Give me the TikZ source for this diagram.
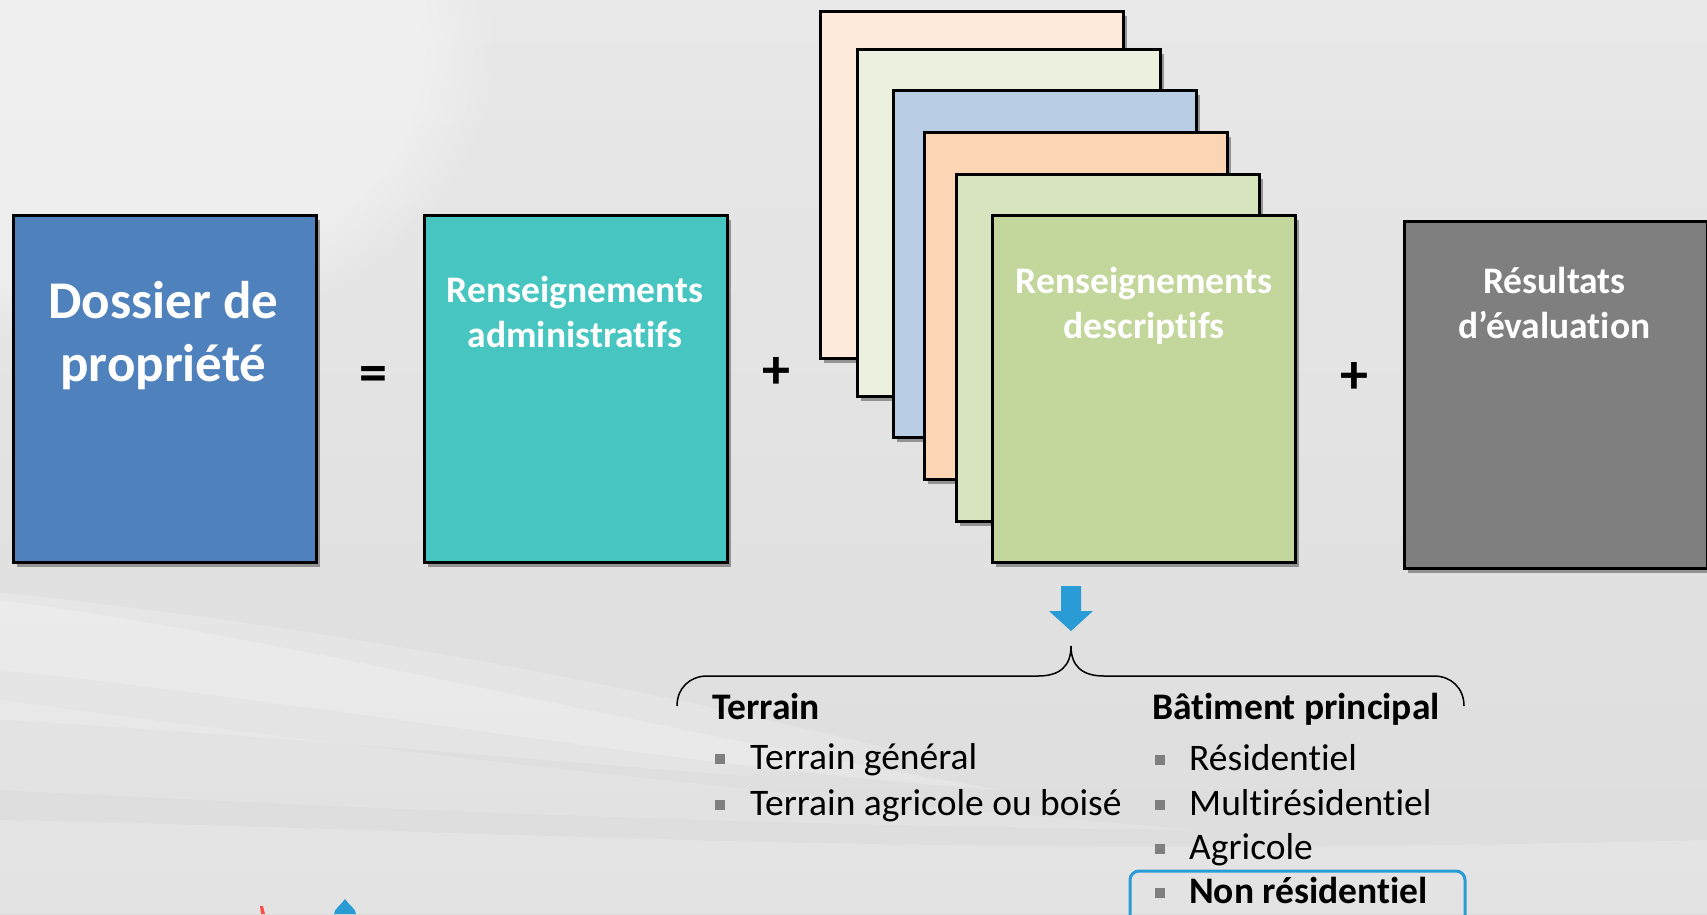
\documentclass[tikz,border=0pt]{standalone}
\usepackage{fontspec}
\setmainfont{Carlito}[Ligatures={NoCommon,NoContextual}, RawFeature={-liga;-clig;-calt}]
\usetikzlibrary{shadows,fadings}
\newcommand\tI{t\kern0pt i}
\definecolor{cdos}{RGB}{79,129,189}
\definecolor{cadm}{RGB}{70,197,193}
\definecolor{cs1}{RGB}{253,234,218}
\definecolor{cs2}{RGB}{235,241,222}
\definecolor{cs3}{RGB}{185,205,229}
\definecolor{cs4}{RGB}{252,213,181}
\definecolor{cs5}{RGB}{215,228,189}
\definecolor{cs6}{RGB}{195,214,155}
\definecolor{cres}{RGB}{127,127,127}
\definecolor{cblue}{RGB}{41,155,213}
\definecolor{cbul}{RGB}{127,127,127}
\begin{document}
\begin{tikzpicture}[x=1pt,y=-1pt,
  card/.style={draw=black, line width=2.5pt, anchor=north west,
    minimum width=303pt, minimum height=347pt, inner sep=0pt,
    drop shadow={shadow xshift=4pt, shadow yshift=-5pt, opacity=0.35, fill=black}},
  bigtxt/.style={text=white, font=\bfseries\fontsize{53}{63}\selectfont, anchor=base, inner sep=0pt},
  midtxt/.style={text=white, font=\bfseries\fontsize{37.5}{44}\selectfont, anchor=base, inner sep=0pt},
  optxt/.style={text=black, font=\bfseries\fontsize{56}{60}\selectfont, anchor=center, inner sep=0pt},
  headtxt/.style={text=black, font=\bfseries\fontsize{37.5}{44}\selectfont, anchor=base west, inner sep=0pt},
  itemtxt/.style={text=black, font=\fontsize{37.5}{44}\selectfont, anchor=base west, inner sep=0pt},
  bul/.style={fill=cbul, draw=none, minimum size=10pt, inner sep=0pt, anchor=center}
]
\useasboundingbox (0,0) rectangle (1707,914);
% background
\shade[top color={rgb,255:red,232;green,232;blue,232}, bottom color={rgb,255:red,221;green,221;blue,221}] (0,0) rectangle (1707,914);
\fill[white, opacity=0.35, path fading=circle with fuzzy edge 20 percent] (-300,-250) rectangle (500,350);
\fill[white, opacity=0.18, path fading=circle with fuzzy edge 15 percent] (-400,560) .. controls (300,600) and (700,700) .. (1100,800) .. controls (700,780) and (200,720) .. (-400,700) -- cycle;
\fill[white, opacity=0.2] (0,600) .. controls (300,640) and (600,720) .. (1000,790) .. controls (700,770) and (300,700) .. (0,670) -- cycle;
\fill[white, opacity=0.15] (0,700) .. controls (300,740) and (700,790) .. (1200,830) .. controls (700,825) and (300,805) .. (0,790) -- cycle;
\fill[white, opacity=0.2] (0,820) .. controls (500,830) and (900,860) .. (1707,840) -- (1707,914) -- (0,914) -- cycle;

% logo fragments
\fill[red!70!white] (260,906) -- (263,906) -- (265,914) -- (261,914) -- cycle;
\fill[cblue] (345,899) .. controls (349,905) and (356,909) .. (356,914) -- (334,914) .. controls (334,909) and (341,905) .. (345,899) -- cycle;

% main boxes
\node[card, fill=cdos] (dos) at (12,214) {};
\node[bigtxt] (dos1) at (163.5,318) {Dossier de};
\node[bigtxt] (dos2) at (163.5,381) {propriété};

\node[optxt] (eq) at (373,379) {=};

\node[card, fill=cadm] (adm) at (423,214) {};
\node[midtxt] (adm1) at (575,302) {Renseignements};
\node[midtxt] (adm2) at (575,347) {administra\tI fs};

\node[optxt] (plus1) at (776,373) {+};

% stack
\node[card, fill=cs1] (s1) at (819,10) {};
\node[card, fill=cs2] (s2) at (856,48) {};
\node[card, fill=cs3] (s3) at (892,89) {};
\node[card, fill=cs4] (s4) at (923,131) {};
\node[card, fill=cs5] (s5) at (955,173) {};
\node[card, fill=cs6] (s6) at (991,214) {};
\node[midtxt] (des1) at (1144,293) {Renseignements};
\node[midtxt] (des2) at (1144,338) {descrip\tI fs};

\node[optxt] (plus2) at (1354,378) {+};

\node[card, fill=cres] (res) at (1403,220) {};
\node[midtxt] (res1) at (1554.5,293) {Résultats};
\node[midtxt] (res2) at (1554.5,338) {d’évalua\tI on};

% arrow
\fill[cblue] (1061,586) -- (1081,586) -- (1081,611) -- (1093,611) -- (1071,631) -- (1049,611) -- (1061,611) -- cycle;

% brace
\draw[black, line width=1.5pt] (677,706) .. controls (677,688) and (690,676) .. (707,676) -- (1038,676)
  .. controls (1060,676) and (1071,666) .. (1071,646)
  .. controls (1071,666) and (1082,676) .. (1104,676) -- (1434,676)
  .. controls (1451,676) and (1464,688) .. (1464,706);

% left list
\node[headtxt] (ter) at (712,719) {Terrain};
\node[bul] (b1) at (720,759) {};
\node[itemtxt] (t1) at (750,769) {Terrain général};
\node[bul] (b2) at (720,805) {};
\node[itemtxt] (t2) at (750,815) {Terrain agricole ou boisé};

% right list
\node[headtxt] (bat) at (1152,719) {Bâ\tI ment principal};
\node[bul] (b3) at (1160,760) {};
\node[itemtxt] (r1) at (1189,770) {Résiden\tI el};
\node[bul] (b4) at (1160,805) {};
\node[itemtxt] (r2) at (1189,815) {Mul\tI résiden\tI el};
\node[bul] (b5) at (1160,849) {};
\node[itemtxt] (r3) at (1189,859) {Agricole};
\node[bul] (b6) at (1160,893) {};
\node[headtxt] (r4) at (1189,903) {Non résiden\tI el};
\draw[cblue, line width=3pt, rounded corners=9pt] (1130,871) rectangle (1465,935);
\end{tikzpicture}
\end{document}
